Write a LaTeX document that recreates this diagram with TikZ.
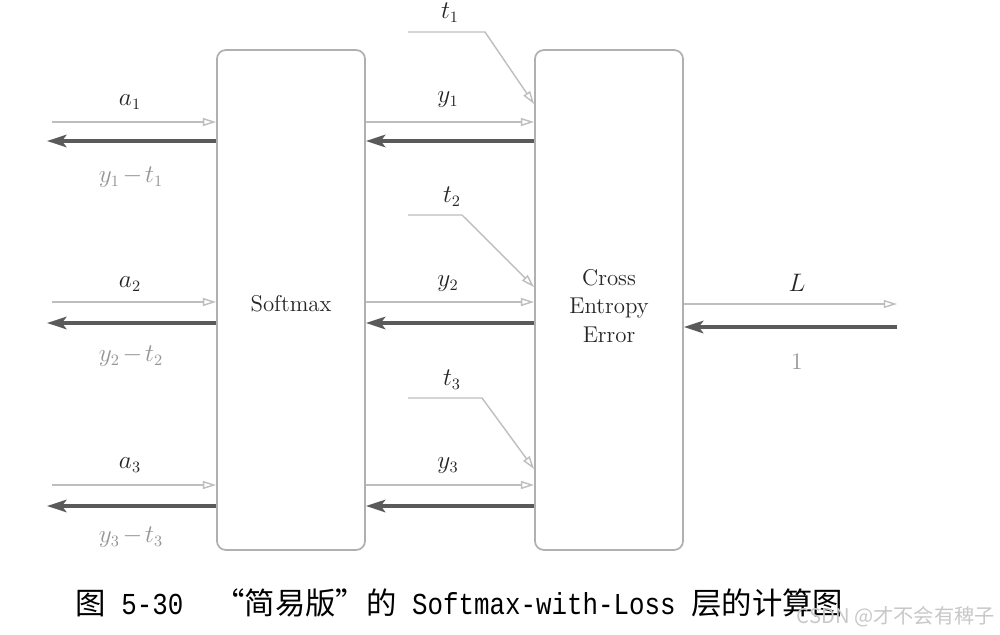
\documentclass[tikz,border=0pt]{standalone}
\usepackage{fontspec}
\usepackage{tikz}
\usetikzlibrary{arrows.meta,positioning}
\usepackage{xcolor}
\newfontfamily\cjkfont{Noto Sans CJK SC}
\newfontfamily\capmono[FakeStretch=0.85]{Liberation Mono}
\definecolor{boxgray}{RGB}{176,176,176}
\definecolor{fwdgray}{RGB}{190,190,190}
\definecolor{backgray}{RGB}{90,90,90}
\definecolor{labgray}{RGB}{150,150,150}
\definecolor{markgray}{RGB}{200,200,200}

\begin{document}
\begin{tikzpicture}[
    x=0.02cm, y=-0.02cm,
    layer/.style={rectangle, rounded corners=5pt, draw=boxgray, line width=1pt,
                  minimum width=2.96cm, minimum height=10cm},
    fwd/.style={-{Triangle[open, length=7.5pt, width=4.5pt]}, draw=fwdgray, line width=0.8pt},
    back/.style={-{Stealth[length=11pt, width=7pt, inset=2.5pt]}, draw=backgray, line width=2.3pt},
    lbl/.style={font=\fontsize{13.5}{16}\selectfont, text=black!85},
    glbl/.style={lbl, text=labgray}
]
\useasboundingbox[fill=white] (0,0) rectangle (1000,635);

% Layers
\node[layer] (soft) at (291,300) {};
\node[layer] (cross) at (609,300) {};
\node[lbl, font=\fontsize{13}{16}\selectfont] (softtxt) at (291,304) {Softmax};
\node[lbl, font=\fontsize{13}{16}\selectfont, align=center] (crosstxt) at (609,306) {Cross\\Entropy\\Error};

% Free ends
\coordinate (a1s) at (52,122);
\coordinate (a2s) at (52,302);
\coordinate (a3s) at (52,485);
\coordinate (g1s) at (47,141);
\coordinate (g2s) at (47,323);
\coordinate (g3s) at (47,506);
\coordinate (t1s) at (408,32);
\coordinate (t1b) at (485,32);
\coordinate (t2s) at (408,215);
\coordinate (t2b) at (462,215);
\coordinate (t3s) at (408,398);
\coordinate (t3b) at (482,398);
\coordinate (Lout) at (897,304);
\coordinate (Lin) at (897,327);

% Forward arrows
\draw[fwd] (a1s) -- (a1s -| soft.west);
\draw[fwd] (a2s) -- (a2s -| soft.west);
\draw[fwd] (a3s) -- (a3s -| soft.west);
\draw[fwd] (soft.east |- a1s) -- (cross.west |- a1s);
\draw[fwd] (soft.east |- a2s) -- (cross.west |- a2s);
\draw[fwd] (soft.east |- a3s) -- (cross.west |- a3s);
\draw[fwd] (t1s) -- (t1b) -- ([yshift=-1.1cm]cross.north west);
\draw[fwd] (t2s) -- (t2b) -- ([yshift=-4.76cm]cross.north west);
\draw[fwd] (t3s) -- (t3b) -- ([yshift=-8.4cm]cross.north west);
\draw[fwd] (cross.east |- Lout) -- (Lout);

% Backward arrows
\draw[back] (g1s -| soft.west) -- (g1s);
\draw[back] (g2s -| soft.west) -- (g2s);
\draw[back] (g3s -| soft.west) -- (g3s);
\draw[back] (cross.west |- g1s) -- (soft.east |- g1s);
\draw[back] (cross.west |- g2s) -- (soft.east |- g2s);
\draw[back] (cross.west |- g3s) -- (soft.east |- g3s);
\draw[back] (Lin) -- (cross.east |- Lin);

% Labels
\node[lbl] (a1) at (130,102) {$a_1$};
\node[lbl] (a2) at (130,284) {$a_2$};
\node[lbl] (a3) at (130,465) {$a_3$};
\node[glbl] (d1) at (131,177) {$y_1\mkern2mu{-}\mkern2mu t_1$};
\node[glbl] (d2) at (131,356) {$y_2\mkern2mu{-}\mkern2mu t_2$};
\node[glbl] (d3) at (131,537) {$y_3\mkern2mu{-}\mkern2mu t_3$};
\node[lbl] (y1) at (448,100) {$y_1$};
\node[lbl] (y2) at (448,284) {$y_2$};
\node[lbl] (y3) at (448,466) {$y_3$};
\node[lbl] (t1) at (450,13) {$t_1$};
\node[lbl] (t2) at (452,197) {$t_2$};
\node[lbl] (t3) at (452,380) {$t_3$};
\node[lbl] (L) at (797,283) {$L$};
\node[glbl] (one) at (797,362) {1};

% Caption
\node[anchor=west, inner sep=0pt, font=\fontsize{17.3}{20}\selectfont] (cap) at (75,603)
     {{\cjkfont 图}{\capmono\ 5-30\ \ }{\cjkfont “简易版”的}{\capmono\ Softmax-with-Loss\ }{\cjkfont 层的计算图}};
\node[anchor=east, inner sep=0pt, text=markgray, font=\cjkfont\fontsize{11.5}{13}\selectfont] (mark) at (995,617)
     {CSDN @才不会有稗子};

\end{tikzpicture}
\end{document}
